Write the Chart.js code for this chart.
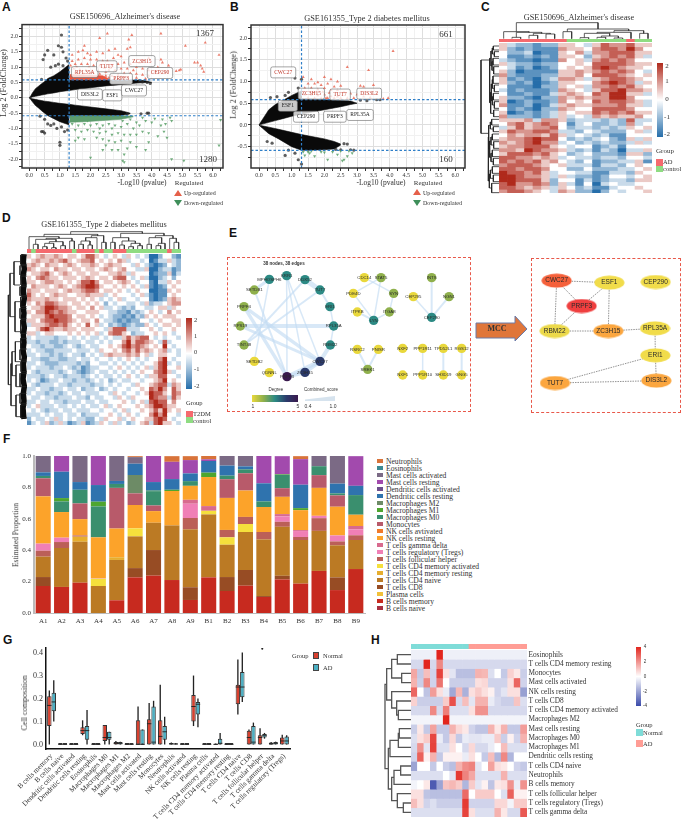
<!DOCTYPE html>
<html>
<head>
<meta charset="utf-8">
<title>Figure</title>
<script src="https://cdn.jsdelivr.net/npm/chart.js@4"></script>
<style>
html,body{margin:0;padding:0;background:#fff}
#page{position:relative;width:685px;height:821px;overflow:hidden;background:#fff}
#page canvas{position:absolute}
.t{position:absolute;white-space:nowrap;color:#333;line-height:1;font-family:"Liberation Serif",serif}
.b{position:absolute}
</style>
</head>
<body>
<div id="page"></div>
<script>
// ---------- volcano A ----------
const wedgeUpXA = [0,.05,.1,.2,.3,.4,.5,.6,.8,1,1.29,1.3,1.5,2,2.5,3,3.5,3.8,4];
const wedgeUpHiA = [0,.07,.16,.3,.38,.46,.53,.63,.72,.85,1.08,.58,.58,.58,.58,.58,.58,.56,.5];
const wedgeUpLoA = [0,.01,.03,.05,.07,.09,.11,.13,.16,.2,.24,.24,.27,.33,.39,.43,.48,.5,.5];
const wedgeDnXA = [0,.05,.1,.2,.3,.4,.5,.6,.8,1,1.29,1.3,1.5,2,2.5,3,3.3];
const wedgeDnHiA = [0,-.01,-.03,-.05,-.07,-.09,-.11,-.12,-.15,-.18,-.21,-.21,-.24,-.3,-.36,-.42,-.5];
const wedgeDnLoA = [0,-.06,-.13,-.25,-.33,-.42,-.5,-.58,-.68,-.78,-.88,-.58,-.58,-.58,-.58,-.58,-.52];
const redBandXA = [1.32,1.6,2,2.4,2.6];
const redBandHiA = [.76,.75,.74,.72,.62];
const redBandLoA = [.59,.59,.59,.59,.59];
const greenBandXA = [1.32,1.8,2.4,3,3.4];
const greenBandHiA = [-.59,-.59,-.59,-.59,-.59];
const greenBandLoA = [-.8,-.78,-.74,-.7,-.62];
const blackA = [[1.05,2.05],[.95,1.7],[1.05,1.65],[1.1,1.5],[.6,1.55],[.8,1.4],[.5,1.4],[.45,1.25],[1.2,1.3],[1.25,1.2],[.95,1.1],[.7,1],[.85,1.05],[.4,.6],[1.1,1.05],
 [.4,-1.1],[.45,-1.1],[.5,-1.15],[1,-1.45],[1,-1.55],[1.05,-.95],[1.25,-1.05],[1.15,-1.1],[.9,-1],[.6,-.85],[.7,-.9],[.8,-.85],[.35,-.6],[.5,-.7],[3.2,-.52],[3.65,-.52],[3.85,-.5],[3.9,-.5],[3.7,.52],[3.85,.5],[3.95,.47],[3.6,.56]];
const redA = [[2.55,2.1],[2.3,1.95],[3.35,2.05],[4.3,2.1],[5.75,1.8],[5.1,1.7],[6.2,1.4],[5.5,1.15],[5.4,1.15],[5.6,1.05],[5.65,.95],[5.7,.85],[4.95,.92],[4.8,.87],[4.9,.9],[4.55,1.05],[4.2,1],[4.35,1.15],[4.3,1.25],[3.9,1.3],[3.6,1.15],[3.3,1.65],[3.2,1.6],[3.25,1.9],[1.8,1.7],[1.75,1.55],[1.6,1.5],[1.9,1.45],[2,1.4],[2.2,1.5],[2.4,1.45],[2.6,1.55],[2.8,1.6],[2.9,1.4],[3,1.35],[2.75,1.3],[2.55,1.2],[2.4,1.2],[2.2,1.25],[2,1.25],[1.8,1.3],[1.6,1.25],[1.4,1.4],[1.4,1.2],[1.5,1.1],[1.7,1.1],[1.9,1.1],[2.1,1.05],[2.3,1.05],[2.7,1.05],[2.9,1.1],[3.1,1.15],[3.3,1.1],[3.5,1],[3.7,.95],[3.9,.9],[4.1,.85],[4.3,.82],[3.4,.9],[3.2,.95],[3,.95],[2.8,.9],[2.6,.9],[2.5,.85],[3.1,.8],[3.3,.8],[3.5,.78],[3.7,.75],[3.9,.72],[2.9,.75],[2.7,.72],[3,.68],[3.2,.65],[3.5,.65],[3.8,.62],[1.45,.95],[1.65,.92],[1.85,.9],[2.05,.88],[2.25,.88],[1.5,.82],[1.75,.8],[2,.8],[2.3,.78],[2.5,.72],[2.6,.65],[2.8,.62],[1.35,1.05],[1.55,1],[1.95,1],[2.45,.98],[2.65,.98]];
const greenA = [[2,-1.95],[3.05,-2.05],[3.1,-2.1],[4.65,-2],[5.05,-2.05],[6.2,-1.55],[6.25,-.72],[4.6,-.65],[4.65,-.75],[4.3,-.9],[4.4,-1.1],[4,-.8],[3.8,-.75],[3.6,-.9],[3.4,-1],[3.2,-.85],[3,-.95],[2.8,-.9],[2.6,-.85],[2.4,-.9],[2.2,-.85],[2,-.9],[1.8,-.85],[1.6,-.9],[1.4,-.85],[1.5,-1.05],[1.7,-1.1],[1.9,-1.05],[2.1,-1.1],[2.3,-1.15],[2.5,-1.1],[2.7,-1.2],[2.9,-1.15],[3.1,-1.2],[3.3,-1.2],[3.5,-1.2],[3.7,-1.1],[3.9,-1.15],[4.2,-1.25],[4.5,-1.3],[3,-1.4],[2.8,-1.45],[2.6,-1.4],[2.4,-1.35],[2.2,-1.3],[1.8,-1.35],[1.6,-1.3],[3.3,-1.45],[3.5,-1.6],[3.8,-1.7],[3.2,-1.65],[2.9,-1.7],[2.7,-1.7],[2.5,-1.55],[2.4,-1.7],[1.5,-1.4],[3.9,-1.45],[3.1,-1.85],[3.5,-.8],[3.7,-.65],[4.1,-.68],[4.35,-.7],[3.3,-.7],[2.7,-1],[2.3,-1],[1.9,-.75],[3.05,-.75],[4.45,-.85]];
const tagsA = [['RPL35A',1.81,.84,'#c0392b'],['TUT7',2.53,1.03,'#c0392b'],['PRPF3',3,.62,'#c0392b'],['ZC3H15',3.68,1.2,'#c0392b'],['CEP290',4.27,.81,'#c0392b'],['DIS3L2',1.98,.11,'#222'],['ESF1',2.71,.08,'#222'],['CWC27',3.42,.24,'#222']];

// ---------- volcano B ----------
const wedgeUpXB = [0,.05,.1,.3,.5,.7,1,1.29,1.3,1.5,2,2.5,2.8,3];
const wedgeUpHiB = [0,.06,.12,.35,.47,.55,.68,.78,.6,.6,.58,.56,.55,.5];
const wedgeUpLoB = [0,.01,.02,.06,.1,.14,.2,.25,.25,.28,.35,.42,.47,.5];
const wedgeDnXB = [0,.05,.1,.3,.6,1,1.3,1.5,2,2.3,2.5];
const wedgeDnHiB = [0,-.01,-.02,-.05,-.1,-.17,-.22,-.25,-.32,-.38,-.44];
const wedgeDnLoB = [0,-.04,-.07,-.2,-.32,-.5,-.58,-.58,-.57,-.55,-.46];
const blackB = [[.35,.63],[.55,.65],[1.1,1.08],[1.3,1.05],[.9,.75],[1.2,.85],[.8,.68],[3.1,.57],[3.3,.56],[3.6,.58],[3.7,.58],[2.6,-.43],[2.7,-.44],[2.8,-.57],[2.9,-.58],[1.2,-.8],[1.3,-.9],[.8,-.7],[1.1,-.65],[.25,-.38],[.4,-.42],[.9,-.58],[2.35,-.56],[2.5,-.57]];
const redB = [[4.1,1.7],[2.7,1.33],[3.35,1.26],[1.35,1.1],[1.6,1.05],[1.8,.98],[2,1.1],[2.2,1.05],[2.4,1],[2.5,.9],[1.5,.95],[1.7,.95],[1.9,.92],[2.1,.95],[2.3,.88],[1.4,.85],[1.6,.85],[1.8,.82],[2,.85],[2.2,.8],[2.4,.8],[2.6,.75],[2.8,.72],[3.1,.9],[3.2,.88],[3.5,.92],[3.6,.72],[3,.7],[3.2,.65],[3.4,.63],[2.7,.62],[2.9,.62],[3.8,.6],[3.95,.62],[1.4,.7],[1.6,.7],[1.8,.68],[2,.7],[2.2,.66],[2.4,.65],[1.5,.62],[1.7,.62],[1.9,.62],[2.1,.62],[2.3,.62],[2.5,.62],[1.75,.75],[1.95,.76],[2.05,.62],[2.15,.74]];
const greenB = [[1.35,-.62],[1.4,-.7],[1.5,-.62],[1.6,-.6],[1.7,-.72],[1.9,-.62],[2,-.63],[2.1,-.8],[2.25,-.62],[2.4,-.68],[2.5,-.6],[2.55,-.82],[2.6,-.8],[2.7,-.72],[2.75,-.6],[2.85,-.65],[1.55,-.65]];
const tagsB = [['CWC27',.74,1.21,'#c0392b'],['ZC3H15',1.6,.72,'#c0392b'],['TUT7',2.48,.7,'#c0392b'],['DIS3L2',3.37,.72,'#c0392b'],['ESF1',.88,.44,'#222'],['CEP290',1.44,.19,'#222'],['PRPF3',2.32,.19,'#222'],['RPL35A',3.09,.23,'#222']];

// ---------- heatmap C (z-score x 2) ----------
const groupC = ['AD','AD','AD','AD','AD','AD','AD','AD','control','control','control','control','control','control','control','AD','control','control'];
const rowsC = [
[1,-1,-2,-2,-3,-2,-2,1,1,0,-1,1,3,2,2,3,1,1],[1,-2,-3,-2,-3,-3,-3,2,1,1,0,2,3,3,2,4,2,0],[0,-2,-2,-1,-4,-3,-3,1,0,2,-1,2,2,3,3,3,1,1],[0,-3,-3,-2,-3,-2,-3,1,1,0,-2,1,2,3,2,3,1,-1],
[-1,-2,-3,-3,-4,-3,-3,2,0,1,-1,2,3,2,3,2,0,0],[1,-1,-2,-2,-3,-2,-2,0,0,1,0,3,3,3,3,2,1,1],[0,-1,-3,-2,-4,-3,-2,0,1,0,1,3,4,3,2,1,1,0],[1,-2,-4,-3,-3,-3,-3,1,1,2,1,2,3,2,3,2,0,-1],
[2,-2,-3,-3,-3,-2,-2,1,1,2,0,3,3,3,2,1,0,1],[1,-3,-2,-3,-4,-2,-1,2,2,1,-1,1,2,3,3,2,1,0],[1,-2,-3,-2,-4,-3,-2,1,1,0,0,2,3,4,3,2,-1,1],[0,-3,-3,-3,-4,-2,-2,1,0,1,-1,2,2,3,2,3,1,0],
[-1,-3,-2,-3,-3,-3,-2,2,1,0,-1,1,3,3,4,2,2,1],[0,-3,-3,-2,-3,-3,-1,1,2,1,0,3,2,4,4,1,1,-1],[1,-2,-2,-3,-4,-2,-2,2,1,2,1,2,2,4,4,2,0,0],[1,-4,-3,-2,-3,-3,-2,2,0,1,0,3,2,3,3,2,1,-1],
[2,-3,-3,-2,-4,-3,-1,1,2,1,1,2,2,2,3,1,1,-1],[0,-3,-2,-3,-4,-2,-2,2,1,0,0,3,3,3,3,2,0,0],[1,-4,-3,-2,-3,-2,-1,1,0,1,1,3,2,3,2,3,1,1],[2,-2,-2,-2,-3,-2,-1,1,-1,0,-1,2,1,2,1,1,2,0],
[1,1,1,2,-1,2,2,1,-2,-1,-1,-1,-2,-1,-2,3,-1,-1],[0,2,3,1,2,3,2,0,-3,-1,0,-2,-2,-1,-2,2,-1,0],[-1,1,3,1,2,2,3,0,-2,-1,-1,-2,-1,-2,-1,1,0,1],[1,3,2,2,3,3,2,-1,-1,-2,0,-1,-2,-2,-2,0,1,-1],
[0,2,1,2,2,1,3,1,-1,0,-1,-2,-1,-3,-3,0,0,0],[1,2,2,3,4,3,3,0,-2,-1,-2,-1,0,-2,-3,1,-1,1],[2,1,2,3,4,2,2,-1,0,-2,-1,-2,-1,-2,-2,-1,1,-1],[1,2,2,3,3,3,1,0,-1,0,0,-3,-2,-1,-3,0,0,0],
[2,2,1,4,3,2,2,1,-1,-2,-1,-3,-1,-2,-4,-1,-1,1],[1,3,3,3,2,3,1,0,-2,-1,0,-2,-2,-2,-3,1,1,-2],[3,3,2,2,1,2,1,-1,0,-1,-1,-2,-1,-1,-2,0,0,-1],[3,2,3,2,3,1,2,0,-1,-2,0,-3,-2,-2,-1,-1,1,-3],
[2,3,3,3,2,1,0,1,-1,-1,-1,-3,-1,-1,-2,0,1,0],[3,3,2,3,3,2,0,0,-2,-2,0,-2,-2,-2,-1,-1,0,1],[4,3,3,2,3,1,-1,0,0,-1,-1,-3,-3,-1,-1,-2,1,0],[4,4,3,2,2,1,-1,1,-1,-2,-2,-3,-2,0,0,-1,0,1],
[4,4,3,3,3,1,-2,0,0,-3,-1,-3,-2,-1,-1,-2,1,1],[3,4,2,2,3,2,-2,1,-1,-3,0,-4,-1,0,-1,-1,0,0],[3,3,2,1,2,1,-1,1,0,-2,-1,-3,-3,-1,0,0,1,0],[2,3,3,2,1,0,-1,2,1,-2,-2,-4,-2,0,-1,0,0,1]];
const treeTopC = [[141,116,167,116,112],[192,116,218,116,106],[243,116,269,116,102],[205,106,256,102,100],[154,112,230,100,97],[116,116,192,97,95],[294,116,320,116,95],[345,116,371,116,113],[396,116,422,116,112],[447,116,473,116,114],[409,112,460,114,108],[358,113,434,108,100],[396,100,498,116,97],[524,116,549,116,100],[447,97,536,100,92],[307,95,491,92,87],[154,95,399,87,68]];
const treeLeftC = [[138,103,150,103,85],[155,103,170,103,88],[175,103,195,103,84],[200,103,222,103,86],[228,103,250,103,84],[255,103,275,103,88],[280,103,300,103,85],[305,103,325,103,88],[330,103,350,103,86],
[144,85,162,88,82],[185,84,211,86,81],[153,82,198,81,78],[239,84,265,88,82],[290,85,315,88,82],[252,82,302,82,79],[277,79,340,86,77],[175,78,308,77,74],
[358,103,375,103,80],[380,103,395,103,85],[402,103,420,103,82],[425,103,445,103,86],[450,103,470,103,82],[475,103,495,103,85],[500,103,520,103,82],[525,103,545,103,85],[550,103,578,103,80],
[366,80,387,85,76],[411,82,435,86,78],[460,82,485,85,78],[510,82,535,85,76],[423,78,472,78,74],[376,76,447,74,71],[522,76,564,80,73],[411,71,543,73,70],[180,74,400,70,48]];

// ---------- heatmap D (z-score x 2) ----------
const groupD = ['T2DM','control','T2DM','T2DM','T2DM','T2DM','T2DM','T2DM','T2DM','T2DM','control','T2DM','T2DM','T2DM','T2DM','control','T2DM','control','control','T2DM','T2DM','T2DM','control','control','control','control','control','control','control','control','control','T2DM','control','control'];
const rowsD = [
[1,0,1,2,1,1,2,1,0,1,1,0,1,3,3,1,0,-1,0,1,0,-1,1,0,-1,0,-1,-4,-4,-2,0,0,-2,-3],
[0,1,2,1,1,2,1,2,3,1,0,1,2,2,3,0,1,0,1,0,2,1,-1,0,0,-1,0,-4,-3,-1,-1,1,-1,-2],
[1,2,1,0,2,1,1,0,1,2,1,0,1,1,2,1,0,1,2,1,1,0,0,-1,1,0,-1,-3,-4,-3,-2,0,-1,-2],
[2,1,0,1,1,0,2,1,1,0,1,1,0,1,1,0,1,2,1,0,1,2,0,0,-1,-1,1,-4,-4,-2,-1,-1,-3,-2],
[0,1,1,2,3,1,0,1,2,1,0,1,1,0,1,1,0,0,1,1,2,1,-1,1,0,0,0,-4,-3,-2,-2,1,-3,-1],
[1,0,2,3,2,1,1,0,1,1,1,0,1,2,1,0,1,1,0,2,3,3,0,-1,0,1,-1,-4,-4,-2,-1,0,-2,0],
[1,1,0,1,2,2,1,1,0,1,0,1,3,3,4,2,0,1,1,0,1,2,1,0,-1,0,0,-3,-4,-1,-1,1,0,1],
[0,2,1,1,1,0,1,2,1,0,1,2,3,4,4,3,1,0,0,1,0,1,0,1,0,-1,1,-3,-4,-3,-2,0,1,0],
[2,1,1,0,1,1,1,0,1,2,1,1,2,3,3,2,0,1,1,0,1,0,-1,0,1,0,0,-4,-4,-3,-3,1,0,1],
[3,1,0,1,0,1,2,1,1,0,0,1,1,2,1,1,1,-1,0,1,0,0,0,-1,0,1,-1,-3,-4,-3,-3,0,1,0],
[2,1,1,1,2,1,1,0,1,1,1,0,1,0,1,0,-1,0,-1,0,1,-1,0,0,-1,0,0,-3,-4,-3,-2,1,2,1],
[1,0,2,1,3,3,2,1,1,0,1,1,0,1,0,1,0,-2,0,-1,0,0,-1,-1,0,-1,1,-2,-1,-1,0,1,2,2],
[0,1,1,2,4,4,3,2,2,1,0,1,1,0,2,0,1,-1,-1,0,-1,-2,-1,-2,0,0,-1,-1,0,1,1,-1,1,0],
[1,0,2,2,4,3,2,3,2,1,1,0,0,1,1,1,0,0,-1,-1,-2,-2,-3,-1,-2,-1,0,1,0,-1,0,2,0,1],
[0,1,1,1,3,4,3,3,3,2,0,1,1,0,1,0,-1,0,-1,-2,-2,-3,-2,-3,-1,-2,1,0,1,0,1,1,1,0],
[1,1,0,2,3,3,4,3,3,2,1,0,1,1,0,2,0,-1,-1,-2,-3,-2,-3,-2,-2,0,0,-1,0,1,0,0,1,1],
[-1,1,1,1,2,3,3,2,3,1,0,1,0,3,0,1,-1,0,-2,-1,-2,-3,-2,-1,-2,-2,1,0,-1,0,1,1,0,1],
[0,0,1,3,4,2,1,1,2,1,1,0,1,1,1,0,0,-1,1,3,3,3,-1,-1,-1,0,0,1,0,-1,0,0,1,0],
[1,1,-1,0,1,1,0,0,0,1,0,1,0,1,0,1,-1,0,2,3,3,1,0,-2,-1,-1,0,0,1,0,1,0,-1,0],
[-1,0,-1,-1,-1,-1,-2,-1,-1,0,-1,0,-1,0,-1,-1,0,-1,0,-1,-1,1,3,1,2,3,3,0,-1,0,-1,0,0,-1],
[-1,-1,-2,-1,-1,-2,-2,-1,-2,-1,-1,-1,0,-1,-1,0,-1,0,-1,0,0,2,4,1,3,3,2,1,0,-1,3,-1,0,0],
[0,-1,-1,-2,-1,-1,-2,-2,-1,0,-1,-2,-1,0,-1,-1,0,0,1,0,1,3,4,2,3,2,1,0,1,0,4,0,-1,0],
[-1,0,-1,-1,-2,-2,-1,-1,-1,-1,0,-1,-1,-1,0,-1,1,0,0,1,0,2,3,1,3,1,2,1,0,1,2,-1,0,-1],
[-1,-1,0,-1,-1,-2,-1,-2,-1,0,-1,-1,-2,0,-1,0,-1,1,2,1,1,1,2,1,2,0,1,-1,0,1,1,0,0,-1],
[0,-1,-1,-2,-2,-1,-1,-2,-2,-1,-1,0,-1,-1,0,-1,0,0,-1,0,-1,0,1,0,-1,0,-1,0,0,2,4,0,-1,0],
[-1,-1,0,-1,-2,-2,-2,-1,-1,-1,-1,-2,-1,-2,0,0,-1,-1,0,-1,0,-1,0,-1,0,-1,0,0,1,3,4,-1,0,-1],
[-1,0,-1,-1,-1,-2,-1,-1,0,-1,-2,-1,-3,-2,-1,-1,0,0,-1,0,1,0,-1,0,-1,0,1,-1,1,3,4,0,0,1],
[0,-1,-2,-1,-1,-1,-1,-2,-1,0,-1,-2,-3,-2,-1,0,-1,-1,0,-1,0,-1,0,-1,0,1,0,0,2,3,4,1,-1,0],
[-1,-1,-1,-2,-1,0,-1,-1,-2,-1,-1,-1,-2,-1,0,-1,0,-1,-1,0,-1,0,1,0,-1,0,-1,1,1,3,3,0,0,-1],
[-1,0,-1,-3,-2,-1,-1,0,-1,-1,-2,-1,-1,-2,-1,0,-1,0,-2,-1,0,-1,-1,0,0,-1,0,0,1,2,4,0,1,0],
[0,-1,-2,-1,-1,-1,0,-1,-1,-2,-1,-1,-1,-1,-2,-1,-1,0,-1,0,-1,0,0,-1,1,0,0,1,2,3,3,-1,2,1],
[-1,-1,0,-1,-1,-2,-1,-1,0,-1,-1,0,-2,-1,-1,0,-2,-1,0,-1,0,0,-1,0,0,1,0,3,2,4,2,0,3,1],
[-1,0,-1,-1,-2,-1,-1,-2,-1,0,-1,-1,0,-1,-1,-1,0,0,-1,1,0,-1,0,0,-1,0,1,4,3,3,1,0,3,2],
[0,-1,-1,0,-1,-1,-2,-1,-1,-1,0,-1,-1,-2,0,-1,-1,0,0,-1,1,0,-1,1,0,0,0,4,3,2,2,-1,3,1],
[-1,-1,0,-1,-1,0,-1,-1,-2,-1,-1,-1,0,-1,-1,0,-1,-1,0,0,0,1,0,-1,0,1,-1,3,4,3,3,0,2,0],
[-1,0,1,-1,-1,-1,0,-1,-1,0,-1,0,-1,0,-1,-1,0,1,-1,0,1,0,0,0,1,0,1,2,4,4,3,1,1,0],
[0,-1,0,-1,-2,-1,-1,0,-1,-1,0,-1,-1,-1,0,0,-1,0,0,-1,0,1,-1,0,0,1,0,1,3,1,4,1,0,1],
[-1,-1,-1,0,-1,0,-1,-1,0,-1,-1,0,-2,-1,-1,-1,0,0,1,0,-1,0,1,0,-1,0,0,2,4,2,4,0,0,-1],
[-2,0,-1,-1,0,-1,1,-1,0,-1,0,-1,-1,-2,-2,0,-1,1,0,0,1,-1,0,1,0,0,1,1,3,4,3,0,-1,0],
[-3,-1,0,-1,1,-2,-1,1,-1,-3,-2,-1,1,-3,-2,-1,1,0,-1,1,-1,0,-2,-1,0,1,2,-1,3,4,1,1,0,-1]];
const treeTopD = [[100,133,114,133,118],[128,133,141,133,125],[155,133,168,133,128],[182,133,196,133,122],[134,125,161,128,115],[148,115,189,122,110],[107,118,168,110,103],[209,133,223,133,108],[138,103,216,108,100],[87,133,177,100,95],[236,133,250,133,118],[264,133,277,133,120],[243,118,270,120,108],[291,133,257,108,98],[305,133,318,133,112],[274,98,311,112,92],[132,95,293,92,88],[332,133,345,133,112],[359,133,373,133,120],[386,133,400,133,125],[413,133,427,133,122],[393,125,420,122,115],[366,120,406,115,108],[338,112,386,108,98],[441,133,454,133,118],[468,133,482,133,122],[475,122,495,133,115],[447,118,485,115,98],[522,133,536,133,112],[509,133,529,112,100],[466,98,519,100,92],[362,98,492,92,85],[212,88,427,85,80]];
const treeLeftD = [[150,80,178,80,62],[182,80,210,80,60],[214,80,240,80,63],[245,80,272,80,60],[276,80,305,80,62],[310,80,340,80,60],[345,80,385,80,62],[400,80,430,80,62],[434,80,465,80,60],[470,80,500,80,63],[505,80,545,80,60],[565,80,595,80,60],[600,80,638,80,62],
[170,60,240,60,42],[290,60,380,60,45],[205,42,335,45,30],[410,60,470,62,46],[480,60,545,62,48],[440,46,512,48,36],[570,60,635,62,48],[476,36,602,48,33],[270,30,539,33,25]];
const stripD = [[72,148],[70,170],[73,192],[69,214],[72,236],[70,258],[73,280],[69,302],[72,324],[70,346],[73,368],[70,390],[72,412],[69,434],[73,456],[70,478],[72,500],[69,522],[73,544],[70,566],[72,588],[69,610],[72,642]];

// ---------- stacked bars F ----------
const sampleLabels = ['A1','A2','A3','A4','A5','A6','A7','A8','A9','B1','B2','B3','B4','B5','B6','B7','B8','B9'];
const bCellsNaive = [0,0,0,0,0,0,0,0,0,0,0,0,0,0,0,0,0,0];
const bCellsMemory = [.172,.166,.193,0,.081,.227,.238,.21,.083,.227,.14,.174,.102,.214,.187,.268,.146,.28];
const plasmaCells = [0,0,0,0,0,0,0,0,0,0,0,0,0,0,0,0,0,0];
const tCellsCD8 = [.057,0,0,0,0,.059,.163,0,.081,0,.089,.1,.006,.023,0,0,.081,0];
const cd4Naive = [.13,.248,.261,.172,.257,.202,.174,.348,.369,.401,.206,.242,.361,.312,.278,.255,.204,.185];
const cd4Resting = [0,0,.032,0,.017,0,0,0,0,0,0,0,0,0,0,0,0,0];
const cd4Activated = [0,0,0,.047,0,.051,0,0,0,.023,.047,.051,0,0,0,0,0,0];
const follicular = [.038,.038,.008,0,0,0,0,0,.072,0,.047,.045,.047,.032,.019,.081,.025,.03];
const tregs = [.045,.028,0,.004,0,0,0,0,.091,0,0,0,0,.034,.038,.015,.038,.038];
const gammaDelta = [0,0,0,0,0,0,0,0,.025,.03,0,0,0,.015,.006,0,0,.021];
const nkResting = [.301,.163,.104,.259,.183,.149,.074,.219,.089,.185,.204,.168,.159,.11,.127,.178,.183,.072];
const nkActivated = [0,0,0,0,0,0,0,0,0,0,0,0,0,0,0,0,0,0];
const monocytes = [.115,0,.1,0,.259,.074,.036,0,0,0,.119,.11,0,.055,0,.081,.072,0];
const macM0 = [.015,.068,.087,.197,.025,0,.091,0,.03,0,.023,.025,.036,.085,0,.057,.013,.125];
const macM1 = [0,.021,0,.03,0,0,.003,.008,0,.028,0,0,0,.004,.013,0,0,0];
const macM2 = [0,0,0,0,0,.117,0,0,0,0,0,0,0,0,0,0,0,0];
const dcResting = [.023,.168,.049,.106,.019,.072,.055,.068,.049,.074,.064,.019,.115,0,.149,0,.062,.059];
const dcActivated = [0,0,0,0,0,0,0,0,0,0,0,0,0,0,0,0,0,0];
const mastResting = [0,.1,0,.185,0,0,.168,.11,.085,.011,0,0,.174,.115,.163,0,0,.189];
const mastActivated = [.104,0,.166,0,.159,.042,0,0,0,0,.062,.066,0,0,0,.066,.176,0];
const eosinophils = [0,0,0,0,0,0,0,0,0,0,0,0,0,0,0,0,0,0];
const neutrophils = [0,0,0,0,0,.006,0,.036,.025,.021,0,0,0,0,.019,0,0,0];

// ---------- box plot G ----------
const cellTypes = ['B cells memory','B cells naive','Dendritic cells activated','Dendritic cells resting','Eosinophils','Macrophages M0','Macrophages M1','Macrophages M2','Mast cells activated','Mast cells resting','Monocytes','Neutrophils','NK cells activated','NK cells resting','Plasma cells','T cells CD4 memory activated','T cells CD4 memory resting','T cells CD4 naive','T cells CD8','T cells follicular helper','T cells gamma delta','T cells regulatory (Tregs)'];
const normalLow = [0,0,0,.04,0,0,0,0,0,0,0,0,0,.08,0,0,0,.13,0,0,0,0];
const normalQ1 = [.08,0,0,.045,0,.015,0,0,0,0,0,0,0,.1,0,0,0,.175,0,0,0,0];
const normalMed = [.17,0,0,.06,0,.03,.005,0,0,.09,.035,.002,0,.165,0,0,0,.25,.03,.03,.002,.015];
const normalQ3 = [.21,.006,.006,.075,.006,.085,.01,.006,.105,.11,.105,.006,.006,.215,.006,.004,.006,.26,.06,.04,.008,.03];
const normalHigh = [.235,.006,.006,.105,.006,.085,.015,.006,.165,.18,.26,.008,.006,.3,.006,.004,.006,.37,.065,.07,.01,.042];
const adLow = [.1,0,0,0,0,0,0,0,0,0,0,0,0,.075,0,0,0,.185,0,.025,0,0];
const adQ1 = [.145,0,0,.02,0,.02,0,0,0,0,.02,0,0,.13,0,0,0,.205,0,.03,0,0];
const adMed = [.185,0,0,.06,0,.03,.005,0,0,.01,.055,.002,0,.175,0,.005,0,.25,.01,.04,.005,.015];
const adQ3 = [.225,.006,.006,.08,.006,.055,.01,.006,.065,.165,.08,.004,.006,.185,.006,.025,.006,.315,.08,.045,.01,.035];
const adHigh = [.28,.006,.006,.15,.006,.055,.012,.006,.065,.19,.12,.006,.006,.2,.006,.05,.006,.4,.095,.05,.012,.04];
const outliersG = [null,null,null,null,null,null,null,null,null,null,null,null,null,null,null,null,null,null,null,.417,null,null];

// ---------- heatmap H ----------
const rowLabelsH = ['Eosinophils','T cells CD4 memory resting','Monocytes','Mast cells activated','NK cells resting','T cells CD8','T cells CD4 memory activated','Macrophages M2','Mast cells resting','Macrophages M0','Macrophages M1','Dendritic cells resting','T cells CD4 naive','Neutrophils','B cells memory','T cells follicular helper','T cells regulatory (Tregs)','T cells gamma delta'];
const groupH = ['Normal','Normal','Normal','Normal','Normal','Normal','Normal','Normal','Normal','AD','AD','AD','AD','AD','AD','AD','AD','AD'];
const rowsH = [
[-.15,-.15,-.15,-.15,4,-.15,-.15,-.15,-.15,-.15,-.15,-.15,-.15,-.15,-.15,-.15,-.15,-.15],
[-.5,-.5,4,-.5,1.8,-.5,-.5,-.5,-.5,-.5,-.5,-.5,-.5,-.5,-.5,-.5,-.5,-.5],
[1.2,-.8,.8,-.6,3.3,.3,-.3,-1,-1,-1,1,.9,-.4,0,-.8,.5,.2,-.7],
[1,-.7,1.8,-.6,2.2,0,-.7,-.7,-.7,-.7,.3,.4,-.6,-.6,-.6,.3,2.5,-.6],
[2.5,0,-.9,1.4,.3,-.2,-1.5,.9,-1.3,.3,.6,.3,.1,-.6,-.3,.3,.3,-1.7],
[.5,-.7,-.7,-.7,-.7,.6,3,-.5,.8,-.3,1,1,-.2,-.5,-.7,-.7,.7,-.4],
[-.5,-.5,-.5,1.8,-.5,2,-.4,-.4,-.4,.3,1.6,1.6,-.5,-.5,-.5,-.5,-.5,-.5],
[-.1,-.1,-.1,-.1,-.1,4,-.1,-.1,-.1,-.1,-.1,-.1,-.1,-.1,-.1,-.1,-.1,-.1],
[-.7,.2,-.8,1.3,-.8,-.8,1,.4,.2,-.6,-.9,-.9,1,.2,1,-.8,-.8,1.4],
[-.4,.3,.6,3.2,-.2,-.8,.4,-.8,-.2,-.3,-.3,-.2,-.2,.6,-.7,.1,-.6,1],
[-.5,1.6,-.3,3.3,-.4,-.4,.3,0,-.5,.4,-.5,-.5,-.2,0,.8,-.4,-.4,-.4],
[-.6,2.6,.1,1,-.8,.1,.1,.1,-.2,.3,0,-.8,.8,-1.2,1.8,-1.2,0,0],
[-1.6,0,0,-.8,0,-.7,-1,1,1.7,1.9,-.3,0,1.3,.3,.2,0,-.6,-.8],
[-.4,-.4,-.4,-.4,-.4,0,-.3,3.5,1.9,1.2,-.4,-.4,-.4,-.4,1,-.4,-.4,-.4],
[-.1,0,.2,-3.5,-1.6,.7,.9,.6,-1.2,.6,-.3,.1,-.9,.2,.3,1.6,-.2,1.6],
[.3,.3,-.9,-1,-1,-1,-1,-1,2.4,0,.6,.6,.6,0,-.4,2.6,.1,.1],
[.8,.3,-.6,-.4,-.7,-.7,-.7,-.7,3.5,-.6,-.6,-.6,-.6,.4,.4,-.1,.6,.6],
[-.4,-.4,-.4,-.4,-.4,-.4,-.4,-.4,3.3,.3,-.4,-.4,-.4,1,.2,-.5,-.5,2.8]];
const treeLeftH = [[74,123,102,123,82],[130,123,158,123,95],[88,82,144,95,65],[241,123,269,123,85],[213,123,255,85,80],[185,123,234,80,65],[116,65,210,65,50],[296,123,324,123,88],[310,88,352,123,85],[331,85,380,123,60],[408,123,435,123,92],[421,92,463,123,72],[519,123,547,123,100],[491,123,533,100,82],[442,72,512,82,65],[355,60,477,65,55],[163,50,416,55,45]];

// ---------- network E ----------
const netNames = ['MPHOSPH6','KRR1','DDX52','TUT7','ERI1','RPL35A','RBM22','CWC27','ZC3H15','PRPF3','QDNNL','SETDB2','TINT48','RPS19','PRPF4','SETDB1','CDC14','STAT5','PDE4D','SYN','ITPKB','ITGA8','LYN','INTS','NGN1','CEP295','CEP290','RSRC2','PNISR','SREK1','NXF2','NXF1','PPP1R11','PPP1R10','TPD52L1','SH3D19','RGS12','GNG5'];
const netX = [133,185,240,285,315,326,316,285,240,186,133,88,57,46,57,88,418,468,385,506,397,493,446,620,672,565,620,397,460,428,533,533,593,593,655,655,710,710];
const netY = [103,92,104,135,185,243,300,349,382,395,383,349,300,243,185,135,98,98,145,145,201,201,226,98,155,155,217,313,313,373,310,390,310,390,310,390,310,390];
const netDegree = [3,3,3,3,3,3,3,4,4,5,1,1,2,2,2,2,1,2,1,2,1,2,3,2,2,1,3,1,1,2,1,1,1,1,1,1,1,1];
const netEdges = [['DDX52','TUT7',5],['TUT7','ERI1',2],['ERI1','RPL35A',1.5],['RPL35A','RPS19',4],['RPS19','CWC27',3],['PRPF4','CWC27',3.5],['PRPF4','PRPF3',3.5],['TINT48','DDX52',2],['TINT48','TUT7',2],['SETDB1','PRPF3',2],['MPHOSPH6','SETDB2',1.5],['MPHOSPH6','SETDB1',3],['KRR1','ZC3H15',1.5],['KRR1','PRPF3',1.5],['KRR1','CWC27',1.5],['RBM22','CWC27',4],['CWC27','ZC3H15',4],['ZC3H15','PRPF3',4],['CWC27','PRPF3',4],['RPL35A','RBM22',1.5],['CDC14','SYN',1.5],['STAT5','LYN',1.5],['STAT5','PDE4D',1.5],['ITPKB','LYN',2],['PDE4D','LYN',1.5],['ITGA8','LYN',1.5],['SYN','ITGA8',1.5],['INTS','CEP290',2],['NGN1','CEP290',2],['CEP295','CEP290',1.5],['RSRC2','SREK1',2],['PNISR','SREK1',2],['PPP1R11','PPP1R10',1.5],['TPD52L1','SH3D19',2],['RGS12','GNG5',2]];

const mccNames = ['CWC27','ESF1','CEP290','PRPF3','RBM22','ZC3H15','RPL35A','ERI1','TUT7','DIS3L2'];
const mccX = [305,463,602,380,299,460,600,601,300,604];
const mccY = [107,113,111,183,258,258,250,331,414,407];
const mccColors = ['#f5603a','#f1dc4a','#f1dc4a','#ef3f3f','#ecd94a','#fba63f','#f1dc4a','#f1dc4a','#fba63f','#fba63f'];
const mccEdges = [['CWC27','ESF1'],['CWC27','PRPF3'],['CWC27','RBM22'],['ESF1','PRPF3'],['ESF1','ZC3H15'],['PRPF3','RBM22'],['RBM22','ZC3H15'],['ZC3H15','RPL35A'],['RPL35A','ERI1'],['ERI1','DIS3L2'],['ERI1','TUT7'],['TUT7','DIS3L2']];

// ---------- helpers ----------
Chart.defaults.animation = false;
Chart.defaults.responsive = false;
Chart.defaults.events = [];
Chart.defaults.plugins.legend.display = false;
Chart.defaults.plugins.tooltip.enabled = false;
Chart.defaults.font.family = '"Liberation Serif", serif';
Chart.defaults.color = '#333';

const page = document.getElementById('page');
function ctxAt(x, y, w, h) {
  const c = document.createElement('canvas');
  c.width = w; c.height = h;
  c.style.left = x + 'px'; c.style.top = y + 'px';
  page.appendChild(c);
  return c;
}
function txt(s, x, y, o) {
  o = o || {};
  const d = document.createElement('div');
  d.className = 't';
  d.textContent = s;
  d.style.left = x + 'px'; d.style.top = y + 'px';
  d.style.fontSize = (o.size || 7) + 'px';
  if (o.sans) d.style.fontFamily = '"Liberation Sans",sans-serif';
  if (o.weight) d.style.fontWeight = o.weight;
  if (o.color) d.style.color = o.color;
  const ax = o.anchor === 'c' ? '-50%' : o.anchor === 'r' ? '-100%' : '0';
  d.style.transform = 'translate(' + ax + ',-50%)' + (o.rot ? ' rotate(' + o.rot + 'deg)' : '');
  page.appendChild(d);
}
function box(x, y, w, h, css) {
  const d = document.createElement('div');
  d.className = 'b';
  d.style.cssText = 'left:' + x + 'px;top:' + y + 'px;width:' + w + 'px;height:' + h + 'px;' + css;
  page.appendChild(d);
}
function mix(a, b, t) {
  return 'rgb(' + a.map((v, i) => Math.round(v + (b[i] - v) * t)).join(',') + ')';
}
const rdBu = v => {
  const t = Math.min(Math.abs(v) / 4, 1);
  return v >= 0 ? mix([255,255,255], [176,42,28], t) : mix([255,255,255], [38,110,170], t);
};
const blueRed = v => {
  const t = Math.pow(Math.min(Math.abs(v) / 4, 1), .75);
  return v >= 0 ? mix([255,255,255], [226,38,30], t) : mix([255,255,255], [58,74,170], t);
};
const pts = (xs, ys) => xs.map((x, i) => ({x: x, y: ys[i]}));
const pairs = a => a.map(p => ({x: p[0], y: p[1]}));

function heat(x, y, w, h, rows, color) {
  new Chart(ctxAt(x, y, w, h), {
    type: 'bar',
    data: {
      labels: rows[0].map((v, i) => i),
      datasets: rows.map((row, r) => ({
        data: row.map(() => [r, r + 1]),
        backgroundColor: row.map(color),
        borderWidth: 0,
        grouped: false,
        barPercentage: 1,
        categoryPercentage: 1
      }))
    },
    options: {
      layout: {autoPadding: false},
      scales: {
        x: {display: false},
        y: {display: false, min: 0, max: rows.length, reverse: true, stacked: false}
      }
    }
  });
}
// tree coordinates are in units of 1/3 px inside the box
function tree(x, y, w, h, merges, side, color, width, extra) {
  const lines = merges.map(m => side === 'top'
    ? [{x: m[0], y: m[1]}, {x: m[0], y: m[4]}, {x: m[2], y: m[4]}, {x: m[2], y: m[3]}]
    : [{x: m[1], y: m[0]}, {x: m[4], y: m[0]}, {x: m[4], y: m[2]}, {x: m[3], y: m[2]}]);
  const sets = lines.map(l => ({data: l, showLine: true, pointRadius: 0, borderColor: color, borderWidth: width}));
  if (extra) sets.push(extra);
  new Chart(ctxAt(x, y, w, h), {
    type: 'scatter',
    data: {datasets: sets},
    options: {
      layout: {autoPadding: false},
      scales: {
        x: {display: false, min: 0, max: w * 3},
        y: {display: false, min: 0, max: h * 3, reverse: true}
      }
    }
  });
}
const framePlugin = {
  id: 'frameBox',
  afterDatasetsDraw(ch) {
    const a = ch.chartArea, c = ch.ctx;
    c.save(); c.strokeStyle = '#333'; c.lineWidth = 1.5;
    c.strokeRect(a.left, a.top, a.right - a.left, a.bottom - a.top);
    c.restore();
  }
};
function tagPlugin(tags) {
  return {
    id: 'tags',
    afterDatasetsDraw(ch) {
      const c = ch.ctx;
      c.save();
      c.font = '5.5px "Liberation Serif", serif';
      c.textAlign = 'center'; c.textBaseline = 'middle';
      tags.forEach(t => {
        const px = ch.scales.x.getPixelForValue(t[1]), py = ch.scales.y.getPixelForValue(t[2]);
        const w = c.measureText(t[0]).width + 7, h = 11;
        c.beginPath();
        c.roundRect(px - w / 2, py - h / 2, w, h, 2);
        c.fillStyle = 'rgba(255,255,255,.78)'; c.fill();
        c.strokeStyle = '#666'; c.lineWidth = .6; c.stroke();
        c.fillStyle = t[3];
        c.fillText(t[0], px, py);
      });
      c.restore();
    }
  };
}
function volcano(v) {
  const r = v.rect, p = v.plot;
  const line = (xs, ys, col, fill) => ({type: 'line', data: pts(xs, ys), borderColor: col, backgroundColor: col, borderWidth: .6, pointRadius: 0, tension: 0, fill: fill});
  const dash = d => ({type: 'line', data: d, borderColor: '#2f7fc8', borderWidth: 1.2, borderDash: [2.5, 2], pointRadius: 0});
  const sets = [
    dash([{x: 1.3, y: v.ymin}, {x: 1.3, y: v.ymax}]),
    dash([{x: v.xmin, y: .585}, {x: v.xmax, y: .585}]),
    dash([{x: v.xmin, y: -.585}, {x: v.xmax, y: -.585}]),
    {data: pairs(v.red), pointStyle: 'triangle', pointRadius: 1.8, backgroundColor: 'rgba(232,105,85,.85)', borderWidth: 0},
    {data: pairs(v.green), pointStyle: 'triangle', rotation: 180, pointRadius: 1.8, backgroundColor: 'rgba(90,160,105,.85)', borderWidth: 0},
    {data: pairs(v.black), pointRadius: 1.6, backgroundColor: 'rgba(40,40,40,.75)', borderWidth: 0}
  ];
  (v.bands || []).forEach(b => { sets.push(line(b[0], b[1], b[3], '+1')); sets.push(line(b[0], b[2], b[3], false)); });
  v.wedges.forEach(b => { sets.push(line(b[0], b[1], '#0a0a0a', '+1')); sets.push(line(b[0], b[2], '#0a0a0a', false)); });
  const major = t => Math.abs(t * 2 - Math.round(t * 2)) < 1e-6;
  const axis = (font) => ({
    type: 'linear',
    ticks: {stepSize: .25, includeBounds: false, autoSkip: false, maxRotation: 0, padding: 1, font: {size: font}, color: '#333', callback: t => major(t) ? t.toFixed(1) : ''},
    grid: {color: c => major(c.tick.value) ? '#dedede' : '#f1f1f1', tickColor: '#333', tickLength: 3, lineWidth: 1},
    border: {display: false}
  });
  const xa = axis(6), ya = axis(6);
  Object.assign(xa, {min: v.xmin, max: v.xmax, afterFit: s => { s.height = r.y + r.h - p.b; }});
  Object.assign(ya, {min: v.ymin, max: v.ymax, afterFit: s => { s.width = p.l - r.x; }});
  new Chart(ctxAt(r.x, r.y, r.w, r.h), {
    type: 'scatter',
    data: {datasets: sets},
    options: {
      layout: {autoPadding: false, padding: {top: p.t - r.y, right: r.x + r.w - p.r, left: 0, bottom: 0}},
      scales: {x: xa, y: ya}
    },
    plugins: [framePlugin, tagPlugin(v.tags)]
  });
}
function network(x, y, w, h, names, xs, ys, edges, nodeOpts, labelFont) {
  const idx = n => names.indexOf(n);
  const edgeSets = edges.map(e => Object.assign({
    data: [{x: xs[idx(e[0])], y: ys[idx(e[0])]}, {x: xs[idx(e[1])], y: ys[idx(e[1])]}],
    showLine: true, pointRadius: 0
  }, nodeOpts.edge(e)));
  const labelPlugin = {
    id: 'nodeNames',
    afterDatasetsDraw(ch) {
      const c = ch.ctx;
      c.save();
      c.font = labelFont; c.fillStyle = '#2a2a2a';
      c.textAlign = 'center'; c.textBaseline = 'middle';
      names.forEach((n, i) => c.fillText(n, ch.scales.x.getPixelForValue(xs[i]), ch.scales.y.getPixelForValue(ys[i])));
      c.restore();
    }
  };
  new Chart(ctxAt(x, y, w, h), {
    type: 'scatter',
    data: {datasets: [Object.assign({data: pts(xs, ys)}, nodeOpts.nodes)].concat(edgeSets)},
    options: {
      layout: {autoPadding: false},
      scales: {
        x: {display: false, min: 0, max: w * 3},
        y: {display: false, min: 0, max: h * 3, reverse: true}
      }
    },
    plugins: [labelPlugin]
  });
}
function ellipse(color) {
  const c = document.createElement('canvas');
  c.width = 31; c.height = 15;
  const g = c.getContext('2d');
  g.fillStyle = color;
  g.beginPath(); g.ellipse(15.5, 7.5, 15, 7, 0, 0, Math.PI * 2); g.fill();
  return c;
}

// ---------- panel letters ----------
[['A',2,7],['B',230,7],['C',481,7],['D',2,218],['E',229,233],['F',3,439],['G',3,640],['H',371,640]].forEach(l =>
  txt(l[0], l[1], l[2], {size: 12, sans: true, weight: 'bold', color: '#111'}));

// ---------- A ----------
volcano({
  rect: {x: 0, y: 20, w: 228, h: 160},
  plot: {l: 22, t: 24, r: 223, b: 168},
  xmin: -.24, xmax: 6.33, ymin: -2.29, ymax: 2.39,
  red: redA, green: greenA, black: blackA, tags: tagsA,
  bands: [[redBandXA, redBandHiA, redBandLoA, '#e8553f'], [greenBandXA, greenBandHiA, greenBandLoA, '#5c9c6c']],
  wedges: [[wedgeUpXA, wedgeUpHiA, wedgeUpLoA], [wedgeDnXA, wedgeDnHiA, wedgeDnLoA]]
});
txt("GSE150696_Alzheimer's disease", 125, 17, {size: 8.3, anchor: 'c'});
txt('1367', 205, 33, {size: 9, anchor: 'c'});
txt('1280', 208, 159, {size: 9, anchor: 'c'});
txt('Log 2 (FoldChange)', 4, 83, {size: 8.3, anchor: 'c', rot: -90});
txt('-Log10 (pvalue)', 142, 183, {size: 7.5, anchor: 'c'});
txt('Regulated', 189, 183, {size: 7, anchor: 'c'});
txt('Up-regulated', 184, 193, {size: 6});
txt('Down-regulated', 184, 203, {size: 6});
box(174, 190, 0, 0, 'border-left:4px solid transparent;border-right:4px solid transparent;border-bottom:6px solid #e5604a');
box(174, 200, 0, 0, 'border-left:4px solid transparent;border-right:4px solid transparent;border-top:6px solid #3f8f5a');

// ---------- B ----------
volcano({
  rect: {x: 229, y: 20, w: 238, h: 160},
  plot: {l: 251, t: 25, r: 465, b: 168},
  xmin: -.245, xmax: 6.3, ymin: -.99, ymax: 2.3,
  red: redB, green: greenB, black: blackB, tags: tagsB,
  wedges: [[wedgeUpXB, wedgeUpHiB, wedgeUpLoB], [wedgeDnXB, wedgeDnHiB, wedgeDnLoB]]
});
txt('GSE161355_Type 2 diabetes mellitus', 367, 19, {size: 8.3, anchor: 'c'});
txt('661', 446, 34, {size: 9, anchor: 'c'});
txt('160', 446, 159, {size: 9, anchor: 'c'});
txt('Log 2 (FoldChange)', 234, 85, {size: 8.3, anchor: 'c', rot: -90});
txt('-Log10 (pvalue)', 381, 183, {size: 7.5, anchor: 'c'});
txt('Regulated', 428, 183, {size: 7, anchor: 'c'});
txt('Up-regulated', 423, 193, {size: 6});
txt('Down-regulated', 423, 203, {size: 6});
box(413, 189, 0, 0, 'border-left:4px solid transparent;border-right:4px solid transparent;border-bottom:6px solid #e5604a');
box(413, 200, 0, 0, 'border-left:4px solid transparent;border-right:4px solid transparent;border-top:6px solid #3f8f5a');

// ---------- C ----------
const groupColor = g => (g === 'control' ? '#8fdc82' : '#f56a6e');
tree(465, 0, 40, 205, treeLeftC, 'left', '#222', .8);
tree(495, 10, 162, 30, treeTopC.map(m => [m[0] - 90, m[1] - 30, m[2] - 90, m[3] - 30, m[4] - 30]), 'top', '#333', .8);
heat(499, 39, 153, 3, [groupC], groupColor);
heat(499, 43, 153, 150, rowsC, rdBu);
txt("GSE150696_Alzheimer's disease", 579, 18, {size: 8.3, anchor: 'c'});
box(657, 63, 6, 74, 'background:linear-gradient(#b02a1c,#fff 50%,#266eaa)');
[['2',66],['1',81],['0',99],['-1',117],['-2',134]].forEach(l => txt(l[0], 667, l[1], {size: 7, anchor: 'c'}));
txt('Group', 656, 151, {size: 7});
box(656, 159, 7, 7, 'background:#f56a6e');
box(656, 166, 7, 6, 'background:#8fdc82');
txt('AD', 663, 162, {size: 6.5});
txt('control', 663, 169, {size: 6.5});

// ---------- D ----------
tree(0, 250, 28, 178, treeLeftD.map(m => [m[0] - 135, m[1], m[2] - 135, m[3], m[4]]), 'left', '#222', .8,
  {data: pairs(stripD.map(p => [p[0], p[1] - 135])), showLine: true, pointRadius: 0, borderColor: '#0a0a0a', borderWidth: 5.5});
tree(20, 228, 165, 22, treeTopD.map(m => [m[0] - 60, m[1] - 69, m[2] - 60, m[3] - 69, m[4] - 69]), 'top', '#333', .8);
heat(27, 249, 154, 4, [groupD], groupColor);
heat(27, 254, 154, 171, rowsD, rdBu);
txt('GSE161355_Type 2 diabetes mellitus', 104, 225, {size: 8.3, anchor: 'c'});
box(186, 318, 6, 71, 'background:linear-gradient(#b02a1c,#fff 50%,#266eaa)');
[['2',320],['1',336],['0',352],['-1',369],['-2',386]].forEach(l => txt(l[0], 194, l[1], {size: 6.5}));
txt('Group', 186, 403, {size: 6.5});
box(186, 411, 7, 6, 'background:#f56a6e');
box(186, 417, 7, 6, 'background:#8fdc82');
txt('T2DM', 193, 414, {size: 6.5});
txt('control', 193, 421, {size: 6.5});

// ---------- E ----------
box(227, 257, 244, 155, 'border:1px dashed #e8584a;box-sizing:border-box');
box(531, 258, 150, 155, 'border:1px dashed #e8584a;box-sizing:border-box');
const degreeColors = {1: '#e9d83c', 2: '#8fb04c', 3: '#2c8a84', 4: '#2b3a6b', 5: '#3a1a4e'};
network(225, 245, 250, 175, netNames, netX, netY, netEdges, {
  nodes: {pointRadius: 4.7, backgroundColor: netDegree.map(d => degreeColors[d]), borderWidth: 0},
  edge: e => ({borderColor: 'rgba(195,220,242,.65)', borderWidth: e[2]})
}, '4.3px "Liberation Sans", sans-serif');
txt('38 nodes, 38 edges', 284, 264, {size: 4.5, sans: true, anchor: 'c', weight: 'bold'});
txt('Degree', 276, 390, {size: 4.5, sans: true, anchor: 'c'});
txt('Combined_score', 321, 390, {size: 4.5, sans: true, anchor: 'c'});
box(252, 395, 46, 7, 'background:linear-gradient(90deg,#e9d83c,#8fb04c,#2c8a84,#2b3a6b,#3a1a4e)');
box(305, 396, 30, 5, 'background:#d6e3ee;clip-path:polygon(0 70%,100% 0,100% 100%,0 100%)');
txt('1', 253, 406, {size: 5, sans: true, anchor: 'c'});
txt('5', 298, 406, {size: 5, sans: true, anchor: 'c'});
txt('0.4', 308, 406, {size: 5, sans: true, anchor: 'c'});
txt('1.0', 333, 406, {size: 5, sans: true, anchor: 'c'});

network(455, 245, 230, 175, mccNames, mccX, mccY, mccEdges, {
  nodes: {pointStyle: mccColors.map(ellipse), pointRadius: 8},
  edge: () => ({borderColor: '#777', borderWidth: .8, borderDash: [1.5, 1]})
}, '6.5px "Liberation Sans", sans-serif');

const ns = 'http://www.w3.org/2000/svg';
const arrow = document.createElementNS(ns, 'svg');
arrow.setAttribute('width', 56); arrow.setAttribute('height', 30);
arrow.style.cssText = 'position:absolute;left:474px;top:314px';
const poly = document.createElementNS(ns, 'polygon');
poly.setAttribute('points', '2,9 41,9 41,2 53,15 41,27 41,24 2,24');
poly.setAttribute('fill', '#e0763a'); poly.setAttribute('stroke', '#6a7aa8'); poly.setAttribute('stroke-width', '1');
arrow.appendChild(poly); page.appendChild(arrow);
txt('MCC', 497, 329, {size: 8, anchor: 'c', weight: 'bold'});

// ---------- F ----------
const stackSeries = [
  ['B cells naive', bCellsNaive, '#a83040'], ['B cells memory', bCellsMemory, '#c72a1f'], ['Plasma cells', plasmaCells, '#f2c03a'],
  ['T cells CD8', tCellsCD8, '#974c24'], ['T cells CD4 naive', cd4Naive, '#bb7a24'], ['T cells CD4 memory resting', cd4Resting, '#e7ae2e'],
  ['T cells CD4 memory activated', cd4Activated, '#f5e03c'], ['T cells follicular helper', follicular, '#bb5f58'], ['T cells regulatory (Tregs)', tregs, '#f07fb6'],
  ['T cells gamma delta', gammaDelta, '#d86a8e'], ['NK cells resting', nkResting, '#fca32a'], ['NK cells avtivated', nkActivated, '#f07a2a'],
  ['Monocytes', monocytes, '#b85a6a'], ['Macrophages M0', macM0, '#3a8f6e'], ['Macrophages M1', macM1, '#4ea62f'], ['Macrophages M2', macM2, '#6d8b66'],
  ['Dendritic cells resting', dcResting, '#2f73ae'], ['Dendritic cells activated', dcActivated, '#6e4f8c'], ['Mast cells resting', mastResting, '#a24aad'],
  ['Mast cells activated', mastActivated, '#7b6a85'], ['Eosinophils', eosinophils, '#3a8a92'], ['Neutrophils', neutrophils, '#d8733a']
];
new Chart(ctxAt(0, 450, 372, 180), {
  type: 'bar',
  data: {
    labels: sampleLabels,
    datasets: stackSeries.map(s => ({label: s[0], data: s[1], backgroundColor: s[2], borderWidth: 0, barPercentage: .82, categoryPercentage: 1}))
  },
  options: {
    layout: {autoPadding: false, padding: {top: 6, right: 7}},
    scales: {
      x: {stacked: true, grid: {display: false, tickLength: 3}, border: {color: '#bbb', width: 1}, ticks: {font: {size: 7}, color: '#333', padding: 1, maxRotation: 0}, afterFit: s => { s.height = 17; }},
      y: {stacked: true, min: 0, max: 1, grid: {display: false, tickLength: 2}, border: {color: '#bbb', width: 2}, ticks: {stepSize: .2, font: {size: 7}, color: '#333', padding: 1, callback: v => v.toFixed(1)}, afterFit: s => { s.width = 34; }}
    }
  }
});
txt('Estimated Proportion', 16, 535, {size: 7.5, anchor: 'c', rot: -90});
stackSeries.slice().reverse().forEach((s, i) => {
  const y = 461 + i * 7;
  box(377, y - 1.7, 5.5, 3.4, 'background:' + s[2]);
  txt(s[0], 386, y + .5, {size: 7.6});
});

// ---------- G ----------
const boxSets = (lo, q1, med, q3, hi, fill, stack) => [
  {stack: stack, data: med.map(v => [v - .002, v + .002]), backgroundColor: '#222', borderWidth: 0, barPercentage: 1, categoryPercentage: .8},
  {stack: stack, data: q1.map((v, i) => [v, q3[i]]), backgroundColor: fill, borderColor: '#333', borderWidth: 1, borderSkipped: false, barPercentage: 1, categoryPercentage: .8},
  {stack: stack, data: lo.map((v, i) => [v, hi[i]]), backgroundColor: '#222', borderWidth: 0, barPercentage: .3, categoryPercentage: .8}
];
new Chart(ctxAt(0, 640, 300, 181), {
  type: 'bar',
  data: {
    labels: cellTypes,
    datasets: [{type: 'line', data: outliersG, showLine: false, pointRadius: 1, backgroundColor: '#222', borderWidth: 0}]
      .concat(boxSets(normalLow, normalQ1, normalMed, normalQ3, normalHigh, '#d8412f', 'Normal'))
      .concat(boxSets(adLow, adQ1, adMed, adQ3, adHigh, '#4cb0c4', 'AD'))
  },
  options: {
    layout: {autoPadding: false, padding: {top: 8, right: 10}},
    scales: {
      x: {grid: {display: false, tickLength: 2}, border: {color: '#111', width: 1.5}, ticks: {autoSkip: false, minRotation: 45, maxRotation: 45, font: {size: 7.3}, color: '#333', padding: 1}, afterFit: s => { s.height = 72; }},
      y: {stacked: false, min: -.02, max: .42, grid: {display: false, tickLength: 2}, border: {color: '#111', width: 1.5}, ticks: {stepSize: .1, includeBounds: false, font: {size: 8}, color: '#333', padding: 1, callback: v => v.toFixed(1)}, afterFit: s => { s.width = 46; }}
    }
  }
});
txt('Cell composition', 25, 703, {size: 8, anchor: 'c', rot: -90});
txt('Group', 292, 656, {size: 6.5});
box(313, 652, 6, 7, 'background:#d8412f;border:1px solid #444;box-sizing:border-box');
box(313, 664, 6, 7, 'background:#4cb0c4;border:1px solid #444;box-sizing:border-box');
txt('Normal', 323, 656, {size: 6.5});
txt('AD', 323, 668, {size: 6.5});

// ---------- H ----------
tree(370, 630, 42, 190, treeLeftH, 'left', '#555', 1.3);
heat(411, 644, 116, 5, [groupH], g => (g === 'Normal' ? '#7fdcd8' : '#ff9d95'));
heat(411, 650, 116, 167, rowsH, blueRed);
rowLabelsH.forEach((n, i) => txt(n, 528.5, 654.6 + i * 9.26, {size: 7.3}));
box(636, 647, 5, 59, 'background:linear-gradient(#e2261e,#fff 50%,#3a4aaa)');
[['4',647],['2',662],['0',677],['-2',692],['-4',706]].forEach(l => txt(l[0], 645, l[1], {size: 4.5, sans: true, anchor: 'c'}));
txt('Group', 636, 725, {size: 6.5});
box(636, 729, 7, 7, 'background:#7fdcd8');
box(636, 740, 7, 7, 'background:#ff9d95');
txt('Normal', 643, 733, {size: 6.5});
txt('AD', 643, 744, {size: 6.5});
</script>
</body>
</html>
